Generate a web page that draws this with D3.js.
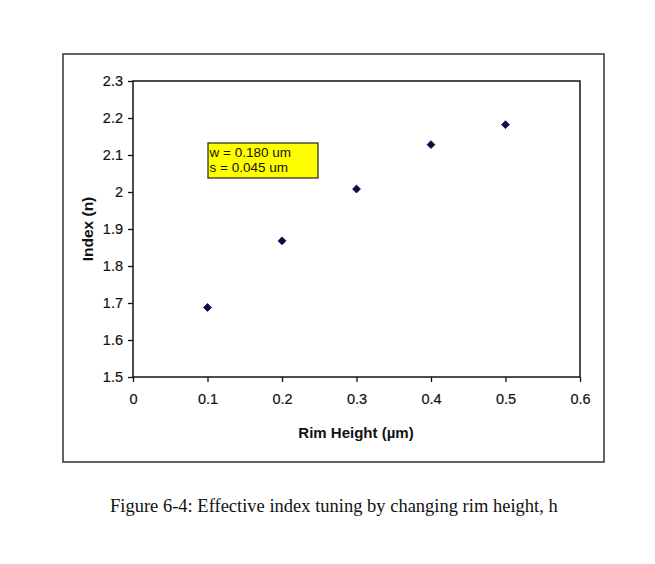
<!DOCTYPE html>
<html>
<head>
<meta charset="utf-8">
<script src="https://cdn.jsdelivr.net/npm/d3@7"></script>
<style>
  body { margin: 0; background: #fff; }
  svg { display: block; }
</style>
</head>
<body>
<div id="root"></div>
<script>
// rim height (um) vs effective index
const rimHeight = [0.1, 0.2, 0.3, 0.4, 0.5];
const indexN = [1.688, 1.868, 2.008, 2.128, 2.182];
const xTicks = [0, 0.1, 0.2, 0.3, 0.4, 0.5, 0.6];
const yTicks = [1.5, 1.6, 1.7, 1.8, 1.9, 2, 2.1, 2.2, 2.3];
const noteLines = ['w = 0.180 um', 's = 0.045 um'];
const caption = 'Figure 6-4: Effective index tuning by changing rim height, h';

const width = 655;
const height = 564;
const plot = { left: 133, right: 580, top: 81, bottom: 377 };
const sans = 'Liberation Sans, Arial, sans-serif';

const svg = d3.select('#root')
  .append('svg')
  .attr('width', width)
  .attr('height', height);

// outer chart frame
svg.append('rect')
  .attr('x', 63)
  .attr('y', 54)
  .attr('width', 541)
  .attr('height', 408)
  .attr('fill', 'none')
  .attr('stroke', '#333')
  .attr('stroke-width', 1.5);

const x = d3.scaleLinear().domain([0, 0.6]).range([plot.left, plot.right]);
const y = d3.scaleLinear().domain([1.5, 2.3]).range([plot.bottom, plot.top]);

const fmt = d => (d === 0 || d === 2) ? String(d) : d3.format('.1f')(d);

const xAxis = svg.append('g')
  .attr('transform', `translate(0,${plot.bottom})`)
  .call(d3.axisBottom(x).tickValues(xTicks).tickFormat(fmt).tickSize(5).tickPadding(12));

const yAxis = svg.append('g')
  .attr('transform', `translate(${plot.left},0)`)
  .call(d3.axisLeft(y).tickValues(yTicks).tickFormat(fmt).tickSize(5).tickPadding(5));

[xAxis, yAxis].forEach(g => {
  g.select('.domain').remove();
  g.selectAll('line').attr('stroke', '#111').attr('stroke-width', 1.3);
  g.selectAll('text')
    .attr('fill', '#111')
    .attr('font-family', sans)
    .attr('font-size', 14.5)
    .attr('stroke', '#111')
    .attr('stroke-width', 0.2);
});

// plot area border
svg.append('rect')
  .attr('x', plot.left)
  .attr('y', plot.top)
  .attr('width', plot.right - plot.left)
  .attr('height', plot.bottom - plot.top)
  .attr('fill', 'none')
  .attr('stroke', '#111')
  .attr('stroke-width', 1.5);

// axis titles
svg.append('text')
  .attr('x', 356)
  .attr('y', 438)
  .attr('text-anchor', 'middle')
  .attr('font-family', sans)
  .attr('font-weight', 'bold')
  .attr('font-size', 15)
  .attr('fill', '#111')
  .text('Rim Height (µm)');

svg.append('text')
  .attr('transform', `translate(93,229) rotate(-90)`)
  .attr('text-anchor', 'middle')
  .attr('font-family', sans)
  .attr('font-weight', 'bold')
  .attr('font-size', 15.5)
  .attr('fill', '#111')
  .text('Index (n)');

// data markers
const points = rimHeight.map((h, i) => [h, indexN[i]]);
svg.selectAll('path.pt')
  .data(points)
  .enter()
  .append('path')
  .attr('class', 'pt')
  .attr('transform', ([h, n]) => `translate(${x(h)},${y(n)})`)
  .attr('d', d3.symbol().type(d3.symbolDiamond2).size(40))
  .attr('fill', '#0c0c45')
  .attr('stroke', '#0c0c45')
  .attr('stroke-width', 0.8);

// parameter note box
const note = svg.append('g').attr('transform', 'translate(208,143)');
note.append('rect')
  .attr('width', 110)
  .attr('height', 35)
  .attr('fill', '#ffff00')
  .attr('stroke', '#222')
  .attr('stroke-width', 1.2);
note.selectAll('text')
  .data(noteLines)
  .enter()
  .append('text')
  .attr('x', 1.5)
  .attr('y', (d, i) => 14 + i * 15)
  .attr('font-family', sans)
  .attr('font-size', 13.5)
  .attr('fill', '#111')
  .text(d => d);

// caption
svg.append('text')
  .attr('x', 110)
  .attr('y', 512)
  .attr('font-family', 'Liberation Serif, DejaVu Serif, serif')
  .attr('font-size', 18.5)
  .attr('fill', '#111')
  .text(caption);
</script>
</body>
</html>
